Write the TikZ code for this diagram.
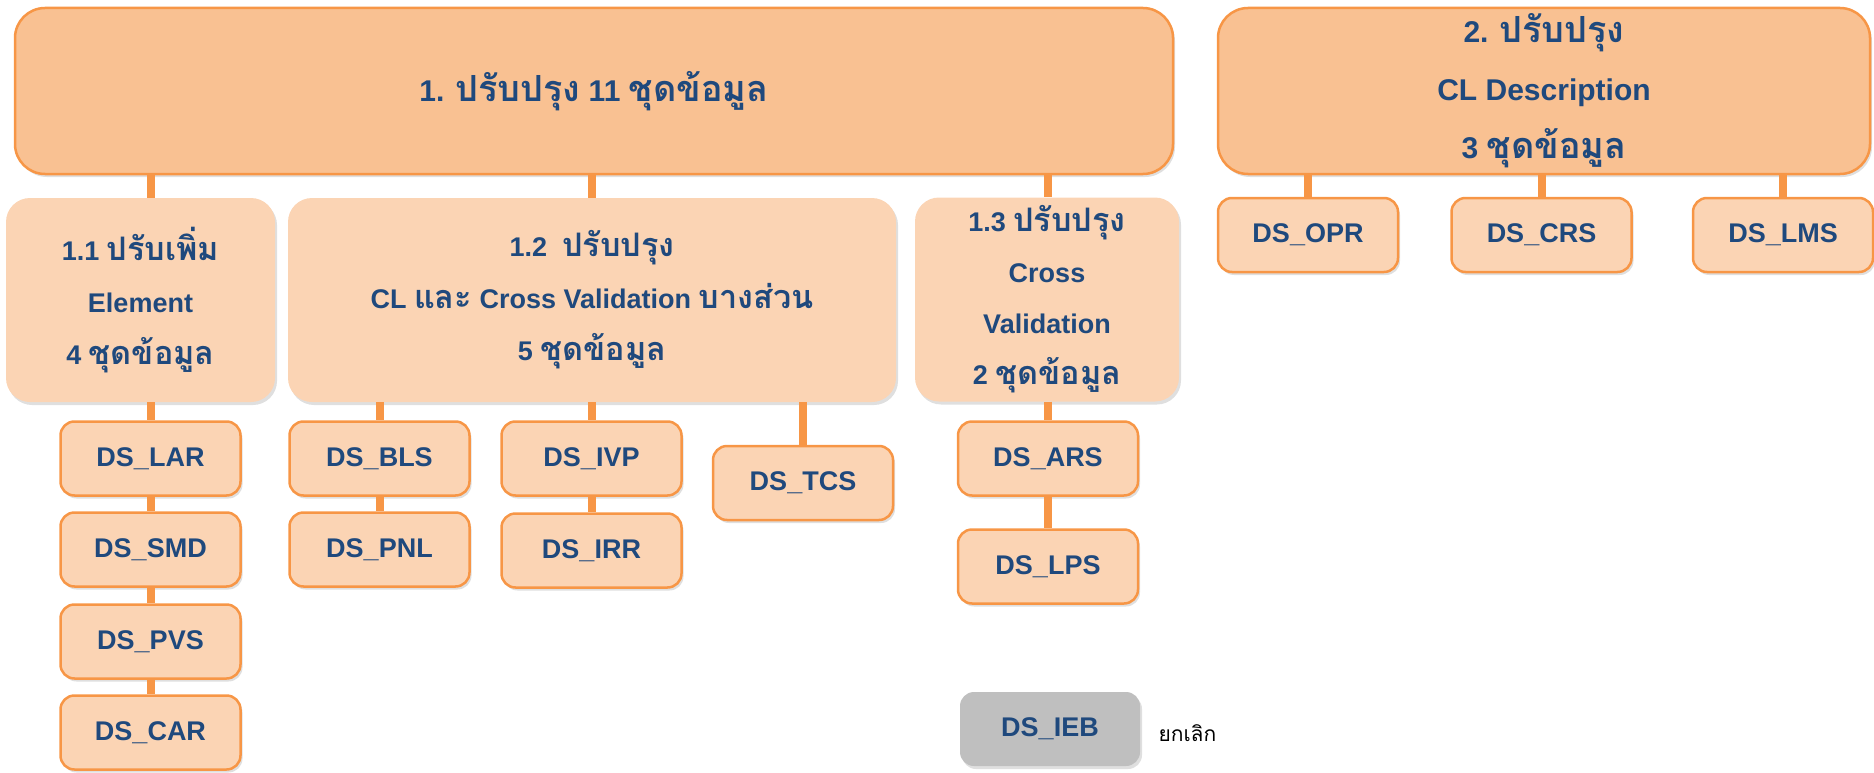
\documentclass[tikz,border=0pt]{standalone}
\usepackage{fontspec}
\setmainfont{Liberation Sans}
\newfontfamily\thaifont[Script=Thai,Scale=1.2]{Loma}
\newcommand{\T}[1]{{\thaifont #1}}
\usetikzlibrary{shadows}
\definecolor{orB}{HTML}{F79646}
\definecolor{orA}{HTML}{F9C192}
\definecolor{orC}{HTML}{FBD4B4}
\definecolor{txt}{HTML}{1F497D}
\definecolor{greyB}{HTML}{BFBFBF}
\begin{document}
\begin{tikzpicture}[x=1pt,y=-1pt,
 sh/.style={drop shadow={opacity=0.25,shadow xshift=2pt,shadow yshift=-3pt}},
 topbox/.style={sh, draw=orB, line width=2.5pt, fill=orA, rounded corners=30pt, inner sep=0pt, text=txt, align=center},
 midbox/.style={sh, fill=orC, rounded corners=24pt, inner sep=0pt, text=txt, align=center, minimum height=204pt},
 dsbox/.style={sh, draw=orB, line width=2.5pt, fill=orC, rounded corners=14pt, minimum width=180pt, minimum height=74pt, inner sep=0pt, text=txt, font=\fontsize{27}{32}\selectfont\bfseries},
 link/.style={draw=orB, line width=8pt},
]
\useasboundingbox (0,0) rectangle (1874,773);
% top boxes
\node[topbox, minimum width=1158pt, minimum height=166pt, font=\fontsize{30}{58}\selectfont\bfseries] (b1) at (594,91) {1. \T{ปรับปรุง} 11 \T{ชุดข้อมูล}};
\node[topbox, minimum width=652pt, minimum height=166pt, font=\fontsize{30}{58}\selectfont\bfseries] (b2) at (1544,91) {2. \T{ปรับปรุง}\\CL Description\\3 \T{ชุดข้อมูล}};
% middle boxes
\node[midbox, minimum width=269pt, font=\fontsize{27}{52}\selectfont\bfseries] (c11) at (140.5,300) {1.1 \T{ปรับเพิ่ม}\\Element\\4 \T{ชุดข้อมูล}};
\node[midbox, minimum width=608pt, font=\fontsize{27}{52}\selectfont\bfseries] (c12) at (592,300) {1.2\ \ \T{ปรับปรุง}\\CL \T{และ} Cross Validation \T{บางส่วน}\\5 \T{ชุดข้อมูล}};
\node[midbox, minimum width=264pt, font=\fontsize{27}{51}\selectfont\bfseries] (c13) at (1047,299.5) {1.3 \T{ปรับปรุง}\\Cross\\Validation\\2 \T{ชุดข้อมูล}};
% DS boxes
\node[dsbox] (lar) at (150.5,458.5) {DS\_LAR};
\node[dsbox] (smd) at (150.5,549.5) {DS\_SMD};
\node[dsbox] (pvs) at (150.5,641.5) {DS\_PVS};
\node[dsbox] (car) at (150.5,732.5) {DS\_CAR};
\node[dsbox] (bls) at (379.5,458.5) {DS\_BLS};
\node[dsbox] (pnl) at (379.5,549.5) {DS\_PNL};
\node[dsbox] (ivp) at (591.5,458.5) {DS\_IVP};
\node[dsbox] (irr) at (591.5,550.5) {DS\_IRR};
\node[dsbox] (tcs) at (803,483) {DS\_TCS};
\node[dsbox] (ars) at (1048,458.5) {DS\_ARS};
\node[dsbox] (lps) at (1048,566.5) {DS\_LPS};
\node[dsbox, draw=none, fill=greyB] (ieb) at (1050,729) {\raisebox{-2pt}{DS\_IEB}};
\node[anchor=west, font=\thaifont\fontsize{17.5}{22}\selectfont] (cancel) at (1155,733) {ยกเลิก};
\node[dsbox] (opr) at (1308,235) {DS\_OPR};
\node[dsbox] (crs) at (1541.5,235) {DS\_CRS};
\node[dsbox] (lms) at (1783,235) {DS\_LMS};
% connectors
\draw[link] (b1.south -| lar.center) -- (c11.north -| lar.center);
\draw[link] (b1.south -| ivp.center) -- (c12.north -| ivp.center);
\draw[link] (b1.south -| ars.center) -- (c13.north -| ars.center);
\draw[link] (c11.south -| lar.center) -- (lar.north);
\draw[link] (lar) -- (smd);
\draw[link] (smd) -- (pvs);
\draw[link] (pvs) -- (car);
\draw[link] (c12.south -| bls.center) -- (bls.north);
\draw[link] (bls) -- (pnl);
\draw[link] (c12.south -| ivp.center) -- (ivp.north);
\draw[link] (ivp) -- (irr);
\draw[link] (c12.south -| tcs.center) -- (tcs.north);
\draw[link] (c13.south -| ars.center) -- (ars.north);
\draw[link] (ars) -- (lps);
\draw[link] (b2.south -| opr.center) -- (opr.north);
\draw[link] (b2.south -| crs.center) -- (crs.north);
\draw[link] (b2.south -| lms.center) -- (lms.north);
\end{tikzpicture}
\end{document}
